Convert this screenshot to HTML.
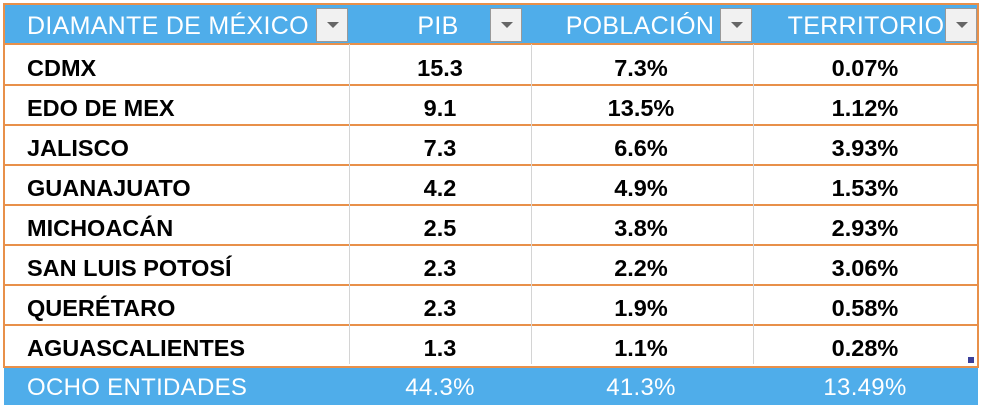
<!DOCTYPE html>
<html><head><meta charset="utf-8"><style>
body{margin:0;width:982px;height:410px;background:#fff;position:relative;overflow:hidden;font-family:"Liberation Sans",sans-serif}
.hdr{position:absolute;left:4px;top:4px;width:973px;height:39px;background:#4FADEA}
.ftr{position:absolute;left:4px;top:366px;width:974px;height:39px;background:#4FADEA}
.border{position:absolute;left:3px;top:3px;width:972px;height:361px;border:2px solid #E8904A;box-sizing:content-box}
.hl{position:absolute;left:4px;width:973px;height:2px;background:#E8904A}
.vl{position:absolute;top:44px;height:320px;width:1px;background:#d4d4d4}
.t{position:absolute;font-size:23.5px;line-height:26px;white-space:nowrap}
.b{font-weight:bold;color:#000}
.w{color:#fff}
.h{font-size:25px;letter-spacing:0.3px}
.c{transform:translateX(-50%)}
.dd{position:absolute;top:8px;width:32px;height:34px;background:#f1f1f1;border:1px solid #999;box-sizing:border-box}
.dd:after{content:"";position:absolute;left:10px;top:13px;border-left:6px solid transparent;border-right:6px solid transparent;border-top:6px solid #666}
</style></head><body>
<div class="hdr"></div>
<div class="ftr"></div>
<div class="border"></div>
<div class="hl" style="top:43px"></div>
<div class="hl" style="top:84px"></div>
<div class="hl" style="top:124px"></div>
<div class="hl" style="top:164px"></div>
<div class="hl" style="top:204px"></div>
<div class="hl" style="top:244px"></div>
<div class="hl" style="top:284px"></div>
<div class="hl" style="top:324px"></div>
<div class="vl" style="left:349px"></div>
<div class="vl" style="left:531px"></div>
<div class="vl" style="left:753px"></div>
<div style="position:absolute;left:968px;top:357px;width:6px;height:6px;background:#3b3f9a"></div>

<div class="t w h" style="left:27px;top:13px">DIAMANTE DE MÉXICO</div>
<div class="dd" style="left:316px"></div>
<div class="t w c h" style="left:438px;top:13px">PIB</div>
<div class="dd" style="left:490px"></div>
<div class="t w c h" style="left:640px;top:13px">POBLACIÓN</div>
<div class="dd" style="left:720px"></div>
<div class="t w c h" style="left:866px;top:13px">TERRITORIO</div>
<div class="dd" style="left:945px"></div>

<div class="t b" style="left:27px;top:55px">CDMX</div>
<div class="t b c" style="left:440px;top:55px">15.3</div>
<div class="t b c" style="left:641px;top:55px">7.3%</div>
<div class="t b c" style="left:865px;top:55px">0.07%</div>

<div class="t b" style="left:27px;top:95px">EDO DE MEX</div>
<div class="t b c" style="left:440px;top:95px">9.1</div>
<div class="t b c" style="left:641px;top:95px">13.5%</div>
<div class="t b c" style="left:865px;top:95px">1.12%</div>

<div class="t b" style="left:27px;top:135px">JALISCO</div>
<div class="t b c" style="left:440px;top:135px">7.3</div>
<div class="t b c" style="left:641px;top:135px">6.6%</div>
<div class="t b c" style="left:865px;top:135px">3.93%</div>

<div class="t b" style="left:27px;top:175px">GUANAJUATO</div>
<div class="t b c" style="left:440px;top:175px">4.2</div>
<div class="t b c" style="left:641px;top:175px">4.9%</div>
<div class="t b c" style="left:865px;top:175px">1.53%</div>

<div class="t b" style="left:27px;top:215px">MICHOACÁN</div>
<div class="t b c" style="left:440px;top:215px">2.5</div>
<div class="t b c" style="left:641px;top:215px">3.8%</div>
<div class="t b c" style="left:865px;top:215px">2.93%</div>

<div class="t b" style="left:27px;top:255px">SAN LUIS POTOSÍ</div>
<div class="t b c" style="left:440px;top:255px">2.3</div>
<div class="t b c" style="left:641px;top:255px">2.2%</div>
<div class="t b c" style="left:865px;top:255px">3.06%</div>

<div class="t b" style="left:27px;top:295px">QUERÉTARO</div>
<div class="t b c" style="left:440px;top:295px">2.3</div>
<div class="t b c" style="left:641px;top:295px">1.9%</div>
<div class="t b c" style="left:865px;top:295px">0.58%</div>

<div class="t b" style="left:27px;top:335px">AGUASCALIENTES</div>
<div class="t b c" style="left:440px;top:335px">1.3</div>
<div class="t b c" style="left:641px;top:335px">1.1%</div>
<div class="t b c" style="left:865px;top:335px">0.28%</div>

<div class="t w h" style="left:27px;top:375px;font-size:24px">OCHO ENTIDADES</div>
<div class="t w c h" style="left:440px;top:375px;font-size:24px">44.3%</div>
<div class="t w c h" style="left:641px;top:375px;font-size:24px">41.3%</div>
<div class="t w c h" style="left:865px;top:375px;font-size:24px">13.49%</div>
</body></html>
